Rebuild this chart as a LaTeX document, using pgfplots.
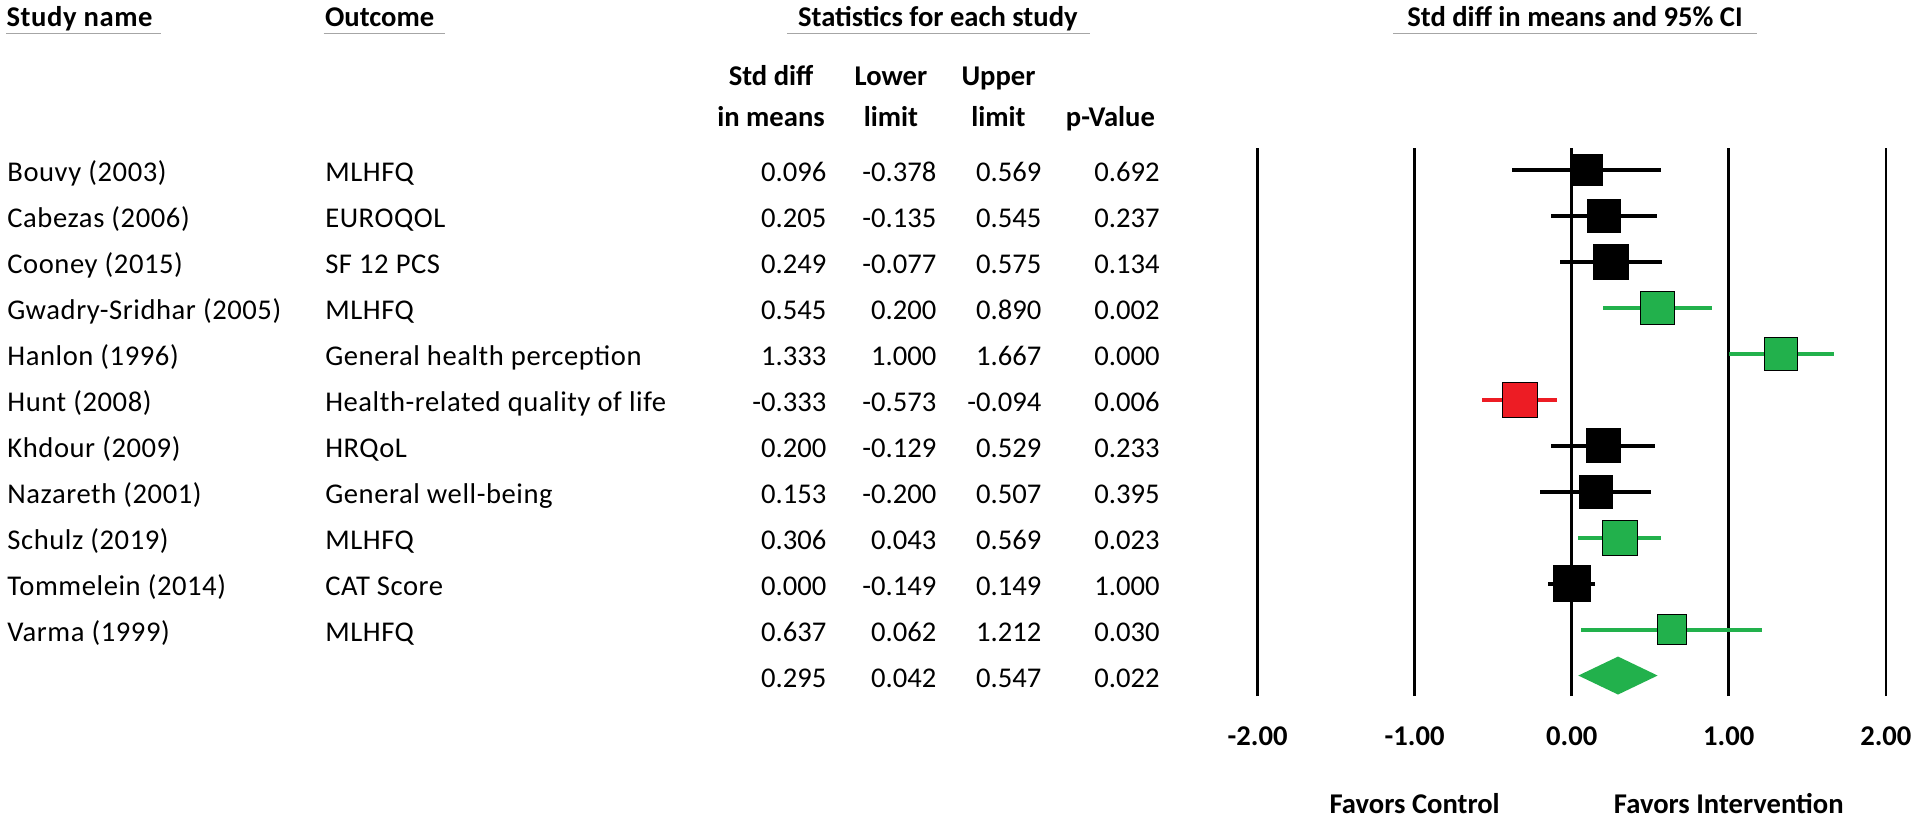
\documentclass[border=0pt]{standalone}
\usepackage{pgfplots}
\pgfplotsset{compat=1.18}
\usepackage{pgfplotstable}
\usepackage{fontspec}
\setmainfont{Carlito}
\newfontfamily\loosefont[LetterSpace=2]{Carlito}
\definecolor{fgreen}{HTML}{22B14C}
\definecolor{fred}{HTML}{ED1C24}
\definecolor{ulgray}{HTML}{A6A6A6}
\newcommand\fs{\fontsize{14.3}{17}\selectfont}

\pgfplotstableread{
row study outcome est lo hi p
1 {Bouvy (2003)} {MLHFQ} 0.096 -0.378 0.569 0.692
2 {Cabezas (2006)} {EUROQOL} 0.205 -0.135 0.545 0.237
3 {Cooney (2015)} {SF 12 PCS} 0.249 -0.077 0.575 0.134
4 {Gwadry-Sridhar (2005)} {MLHFQ} 0.545 0.200 0.890 0.002
5 {Hanlon (1996)} {General health perception} 1.333 1.000 1.667 0.000
6 {Hunt (2008)} {Health-related quality of life} -0.333 -0.573 -0.094 0.006
7 {Khdour (2009)} {HRQoL} 0.200 -0.129 0.529 0.233
8 {Nazareth (2001)} {General well-being} 0.153 -0.200 0.507 0.395
9 {Schulz (2019)} {MLHFQ} 0.306 0.043 0.569 0.023
10 {Tommelein (2014)} {CAT Score} 0.000 -0.149 0.149 1.000
11 {Varma (1999)} {MLHFQ} 0.637 0.062 1.212 0.030
12 {} {} 0.295 0.042 0.547 0.022
}\tbl

\pgfplotstableread{
row est lo hi sz
1 0.096 -0.378 0.569 7.75
2 0.205 -0.135 0.545 8.25
3 0.249 -0.077 0.575 8.6
7 0.200 -0.129 0.529 8.5
8 0.153 -0.200 0.507 8.4
10 0.000 -0.149 0.149 9.1
}\blk

\pgfplotstableread{
row est lo hi sz
4 0.545 0.200 0.890 8.3
5 1.333 1.000 1.667 8.4
9 0.306 0.043 0.569 8.75
11 0.637 0.062 1.212 7.4
}\grn

\pgfplotstableread{
row est lo hi sz
6 -0.333 -0.573 -0.094 8.75
}\red

\pgfplotsset{
  txtcol/.style 2 args={only marks, mark=none, point meta=explicit symbolic,
    nodes near coords, nodes near coords style={anchor=#1, inner sep=0pt, font=\fs#2, text=black}},
  cibar/.style={only marks, mark=none, forget plot,
    error bars/.cd, x dir=both, x explicit, error mark=none,
    error bar style={draw=#1, line width=2pt}},
  sq/.style={scatter, only marks, mark=square*,
    scatter/use mapped color={draw=none, fill=#1},
    visualization depends on={\thisrow{sz}\as\msz},
    scatter/@pre marker code/.append style={/tikz/mark size=\msz pt}},
}

\begin{document}
\begin{tikzpicture}
\path[use as bounding box] (0,0) rectangle (960pt,410.5pt);
\begin{axis}[
  at={(628.8pt,62.5pt)}, anchor=south west,
  scale only axis, width=314.1pt, height=273.85pt,
  xmin=-2, xmax=2, ymin=-12.445, ymax=-0.528,
  clip=false,
  axis line style={draw=none},
  major tick style={draw=none},
  xtick={-2,-1,0,1,2}, xticklabels={-2.00,-1.00,0.00,1.00,2.00},
  ytick=\empty,
  xmajorgrids, major grid style={black, line width=1.3pt},
  xticklabel style={anchor=base, inner sep=0pt, yshift=-24.5pt, font=\fs\bfseries},
]
% text columns
\addplot[txtcol={base west}{\loosefont}] table[x expr=-9.963, y expr=-\thisrow{row}-0.254, meta=study]{\tbl};
\addplot[txtcol={base west}{\loosefont}] table[x expr=-7.939, y expr=-\thisrow{row}-0.254, meta=outcome]{\tbl};
\addplot[txtcol={base east}{}] table[x expr=-4.744, y expr=-\thisrow{row}-0.254, meta=est]{\tbl};
\addplot[txtcol={base east}{}] table[x expr=-4.043, y expr=-\thisrow{row}-0.254, meta=lo]{\tbl};
\addplot[txtcol={base east}{}] table[x expr=-3.375, y expr=-\thisrow{row}-0.254, meta=hi]{\tbl};
\addplot[txtcol={base east}{}] table[x expr=-2.622, y expr=-\thisrow{row}-0.254, meta=p]{\tbl};

% confidence intervals
\addplot[cibar=black] table[x=est, y expr=-\thisrow{row},
  x error plus expr=\thisrow{hi}-\thisrow{est}, x error minus expr=\thisrow{est}-\thisrow{lo}]{\blk};
\addplot[cibar=fgreen] table[x=est, y expr=-\thisrow{row},
  x error plus expr=\thisrow{hi}-\thisrow{est}, x error minus expr=\thisrow{est}-\thisrow{lo}]{\grn};
\addplot[cibar=fred] table[x=est, y expr=-\thisrow{row},
  x error plus expr=\thisrow{hi}-\thisrow{est}, x error minus expr=\thisrow{est}-\thisrow{lo}]{\red};

% squares
\addplot[sq=black] table[x=est, y expr=-\thisrow{row}]{\blk};
\addplot[sq=fgreen] table[x=est, y expr=-\thisrow{row}]{\grn};
\addplot[sq=fred] table[x=est, y expr=-\thisrow{row}]{\red};

% summary diamond
\addplot[fill=fgreen, draw=none] coordinates {(0.042,-12) (0.295,-11.587) (0.547,-12) (0.295,-12.413) (0.042,-12)};

% headers
\node[anchor=base west, inner sep=0pt, font=\fs\loosefont\bfseries] at (axis cs:-9.968,2.12) {Study name};
\node[anchor=base west, inner sep=0pt, font=\fs\bfseries] at (axis cs:-7.940,2.12) {Outcome};
\node[anchor=base, inner sep=0pt, font=\fs\bfseries] at (axis cs:-4.036,2.12) {Statistics for each study};
\node[anchor=base, inner sep=0pt, font=\fs\bfseries] at (axis cs:0.021,2.12) {Std diff in means and 95\% CI};
\draw[ulgray, line width=0.7pt] (axis cs:-9.968,1.966) -- (axis cs:-8.985,1.966);
\draw[ulgray, line width=0.7pt] (axis cs:-7.947,1.966) -- (axis cs:-7.174,1.966);
\draw[ulgray, line width=0.7pt] (axis cs:-4.998,1.966) -- (axis cs:-3.066,1.966);
\draw[ulgray, line width=0.7pt] (axis cs:-1.139,1.966) -- (axis cs:1.177,1.966);

\node[anchor=base, inner sep=0pt, font=\fs\bfseries] at (axis cs:-5.098,0.828) {Std diff};
\node[anchor=base, inner sep=0pt, font=\fs\bfseries] at (axis cs:-5.098,-0.049) {in means};
\node[anchor=base, inner sep=0pt, font=\fs\bfseries] at (axis cs:-4.335,0.828) {Lower};
\node[anchor=base, inner sep=0pt, font=\fs\bfseries] at (axis cs:-4.335,-0.049) {limit};
\node[anchor=base, inner sep=0pt, font=\fs\bfseries] at (axis cs:-3.650,0.828) {Upper};
\node[anchor=base, inner sep=0pt, font=\fs\bfseries] at (axis cs:-3.650,-0.049) {limit};
\node[anchor=base, inner sep=0pt, font=\fs\bfseries] at (axis cs:-2.937,-0.049) {p-Value};

\node[anchor=base, inner sep=0pt, font=\fs\bfseries] at (axis cs:-1,-15.0) {Favors Control};
\node[anchor=base, inner sep=0pt, font=\fs\bfseries] at (axis cs:1,-15.0) {Favors Intervention};
\end{axis}
\end{tikzpicture}
\end{document}
